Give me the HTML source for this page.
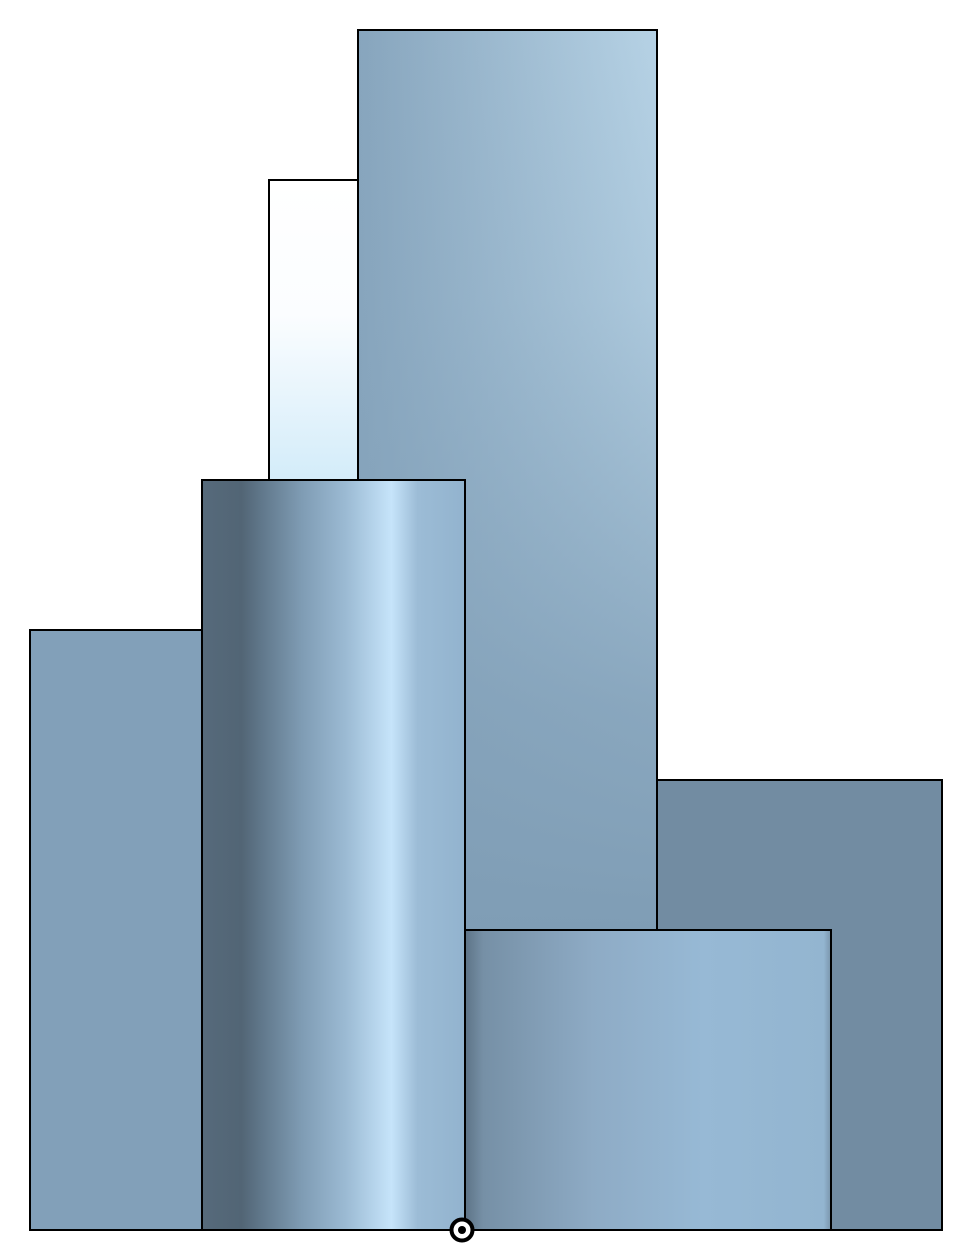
<!DOCTYPE html>
<html>
<head>
<meta charset="utf-8">
<style>
html,body{margin:0;padding:0;background:#fff;}
svg{display:block;}
</style>
</head>
<body>
<svg width="972" height="1250" viewBox="0 0 972 1250">
  <defs>
    <linearGradient id="gTall" x1="358" y1="0" x2="657" y2="0" gradientUnits="userSpaceOnUse">
      <stop offset="0" stop-color="#87a5bd"/>
      <stop offset="1" stop-color="#b6d2e5"/>
    </linearGradient>
    <linearGradient id="gTallV" x1="0" y1="30" x2="0" y2="930" gradientUnits="userSpaceOnUse">
      <stop offset="0" stop-color="#85a3bb" stop-opacity="0"/>
      <stop offset="0.3" stop-color="#85a3bb" stop-opacity="0.2"/>
      <stop offset="0.75" stop-color="#82a0b8" stop-opacity="0.85"/>
      <stop offset="1" stop-color="#7f9db5" stop-opacity="1"/>
    </linearGradient>
    <linearGradient id="gWhite" x1="0" y1="0" x2="0" y2="1">
      <stop offset="0" stop-color="#ffffff"/>
      <stop offset="0.45" stop-color="#fbfdff"/>
      <stop offset="1" stop-color="#d3ecf9"/>
    </linearGradient>
    <linearGradient id="gCyl" x1="202" y1="0" x2="465" y2="0" gradientUnits="userSpaceOnUse">
      <stop offset="0" stop-color="#566a7b"/>
      <stop offset="0.15" stop-color="#526575"/>
      <stop offset="0.22" stop-color="#5f7689"/>
      <stop offset="0.38" stop-color="#7f9cb4"/>
      <stop offset="0.55" stop-color="#9cbbd4"/>
      <stop offset="0.72" stop-color="#c6e4fa"/>
      <stop offset="0.82" stop-color="#9cbcd6"/>
      <stop offset="1" stop-color="#92b3ce"/>
    </linearGradient>
    <linearGradient id="gLow" x1="465" y1="0" x2="831" y2="0" gradientUnits="userSpaceOnUse">
      <stop offset="0" stop-color="#5d7386"/>
      <stop offset="0.05" stop-color="#7690a6"/>
      <stop offset="0.35" stop-color="#8eabc5"/>
      <stop offset="0.65" stop-color="#97b9d5"/>
      <stop offset="0.98" stop-color="#93b5d0"/>
      <stop offset="1" stop-color="#7a95ab"/>
    </linearGradient>
  </defs>

  <rect x="657" y="780" width="285" height="450" fill="#728ca2" stroke="#000" stroke-width="2"/>
  <g>
    <rect x="358" y="30" width="299" height="1200" fill="url(#gTall)"/>
    <rect x="358" y="30" width="299" height="1200" fill="url(#gTallV)" stroke="#000" stroke-width="2"/>
  </g>
  <rect x="269" y="180" width="89" height="300" fill="url(#gWhite)" stroke="#000" stroke-width="2"/>
  <rect x="30" y="630" width="172" height="600" fill="#82a0b9" stroke="#000" stroke-width="2"/>
  <rect x="202" y="480" width="263" height="750" fill="url(#gCyl)" stroke="#000" stroke-width="2"/>
  <rect x="465" y="930" width="366" height="300" fill="url(#gLow)" stroke="#000" stroke-width="2"/>
  <line x1="29" y1="1230" x2="943" y2="1230" stroke="#000" stroke-width="2"/>
  <g>
    <circle cx="462" cy="1230" r="10.5" fill="#fff" stroke="#000" stroke-width="4"/>
    <circle cx="462" cy="1230" r="4" fill="#000"/>
  </g>
</svg>
</body>
</html>
